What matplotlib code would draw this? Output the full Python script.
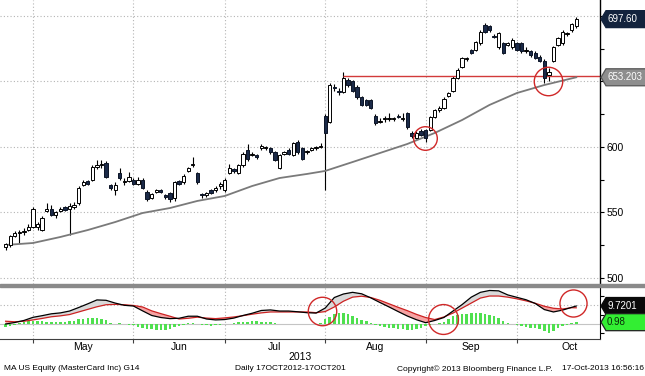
import matplotlib
matplotlib.use("Agg")
import matplotlib.pyplot as plt
import matplotlib.transforms as mtransforms
from matplotlib.patches import Polygon, Rectangle
import numpy as np

plt.rcParams['font.family'] = ['Liberation Sans', 'DejaVu Sans']

# ---------------- data ----------------
open_ = [524, 525, 532, 534, 535, 537, 539, 539, 537, 551,
         553, 548, 551, 554, 553, 554, 557, 571, 574, 575,
         585, 586, 588, 571, 567, 580, 573, 574, 575, 572,
         575, 566, 561, 566, 567, 563, 565, 561, 574, 573,
         582, 586, 580, 564, 563, 567, 567, 570, 567, 580,
         583, 580, 586, 598, 594, 594, 599, 599, 599, 596,
         584, 595, 598, 594, 604, 599, 596, 598, 599, 600,
         624, 619, 646, 643, 642, 651, 650, 646, 638, 636,
         636, 624, 619, 621, 621, 621, 624, 621, 626, 611,
         607, 612, 613, 613, 623, 628, 630, 639, 643, 653,
         661, 667, 674, 674, 679, 693, 692, 685, 676, 679,
         678, 676, 679, 679, 673, 673, 672, 669, 666, 655,
         666, 678, 679, 686, 689, 692]
high = [527, 533, 536, 537, 538, 541, 554, 543, 547, 557,
        556, 551, 554, 555, 557, 558, 570, 575, 575, 586,
        590, 590, 589, 572, 573, 584, 576, 581, 576, 577,
        576, 567, 565, 568, 568, 564, 566, 574, 575, 579,
        585, 592, 581, 565, 566, 568, 570, 573, 576, 587,
        584, 587, 596, 602, 596, 595, 602, 601, 600, 597,
        595, 597, 599, 604, 605, 600, 598, 600, 601, 603,
        625, 649, 648, 645, 657, 653, 651, 647, 639, 637,
        637, 625, 622, 624, 626, 623, 625, 626, 627, 612,
        612, 614, 614, 624, 629, 631, 638, 642, 654, 660,
        669, 669, 675, 681, 689, 695, 693, 686, 688, 680,
        680, 683, 680, 680, 676, 674, 673, 670, 667, 660,
        677, 684, 689, 688, 695, 699]
low = [521, 524, 531, 527, 533, 536, 538, 537, 536, 550,
       547, 546, 550, 551, 533, 553, 556, 570, 571, 574,
       583, 584, 576, 567, 563, 575, 571, 573, 571, 571,
       568, 559, 560, 565, 565, 560, 558, 559, 571, 572,
       581, 585, 572, 561, 562, 564, 566, 568, 566, 579,
       580, 579, 585, 589, 593, 591, 598, 598, 595, 589,
       583, 594, 594, 593, 595, 590, 595, 597, 598, 599,
       567, 618, 643, 640, 641, 646, 642, 637, 631, 631,
       629, 617, 618, 619, 620, 620, 622, 620, 614, 607,
       606, 608, 604, 612, 622, 627, 629, 638, 642, 652,
       660, 666, 671, 673, 678, 687, 688, 683, 675, 671,
       677, 675, 673, 672, 672, 669, 667, 665, 649, 650,
       665, 677, 678, 685, 688, 691]
close = [526, 532, 534, 535, 536, 539, 553, 541, 546, 553,
         548, 550, 553, 552, 555, 556, 569, 573, 572, 585,
         586, 587, 577, 569, 571, 576, 574, 577, 572, 575,
         569, 560, 564, 567, 566, 562, 560, 573, 572, 578,
         584, 587, 573, 563, 565, 565, 569, 572, 575, 584,
         582, 586, 595, 591, 595, 592, 601, 600, 596, 590,
         594, 596, 595, 603, 596, 591, 597, 599, 600, 601,
         611, 647, 645, 642, 653, 647, 643, 638, 632, 632,
         630, 618, 620, 622, 622, 622, 623, 622, 615, 608,
         611, 609, 607, 623, 628, 630, 637, 641, 653, 659,
         668, 668, 672, 680, 688, 688, 689, 684, 687, 672,
         679, 682, 674, 673, 674, 670, 668, 666, 653, 657,
         676, 683, 688, 687, 694, 697.6]

ma_idx = [0, 6, 12, 18, 24, 30, 36, 42, 48, 54, 60, 66, 70, 76, 82, 88,
          94, 100, 106, 112, 118, 125]
ma_val = [525.2, 526.7, 531.3, 536.6, 542.7, 549.6, 553.4, 558.8, 562.6,
          570.2, 576.3, 579.4, 581.7, 588.5, 595.4, 602.3, 610.7, 620.6,
          632.1, 641.2, 647.3, 653.203]

macd_idx = list(range(0, 125, 2)) + [125]
macd_val = [0.0, 0.8, 1.9, 3.6, 4.5, 5.5, 6.0, 7.0, 8.9, 10.9,
            13.0, 12.8, 11.3, 10.1, 9.7, 7.1, 4.6, 3.5, 2.9, 3.1,
            4.2, 4.2, 2.7, 2.2, 2.4, 3.2, 4.6, 5.8, 7.3, 7.6,
            7.0, 7.0, 6.6, 6.1, 5.9, 8.6, 14.3, 16.2, 17.1, 16.3,
            14.1, 11.6, 9.2, 6.7, 4.3, 2.3, 0.7, 1.9, 3.5, 7.0,
            10.5, 14.5, 17.1, 18.1, 17.9, 15.7, 14.4, 13.1, 11.1, 7.8,
            6.5, 7.5, 9.0, 9.7201]
signal_val = [1.5, 1.2, 1.5, 2.2, 3.0, 3.9, 4.4, 5.1, 6.5, 7.9,
              9.3, 10.4, 10.6, 10.4, 10.0, 9.2, 7.1, 5.6, 4.2, 2.7,
              3.1, 3.7, 3.2, 2.9, 3.3, 3.8, 4.5, 5.3, 6.0, 6.5,
              6.5, 6.5, 6.5, 6.5, 6.1, 6.7, 9.2, 12.3, 14.5, 15.0,
              14.3, 12.8, 10.9, 9.0, 7.2, 5.2, 3.5, 2.4, 3.8, 5.9,
              8.6, 11.3, 14.0, 15.1, 15.1, 14.5, 13.6, 12.5, 11.2, 9.6,
              8.5, 8.1, 8.8, 8.74]
hist_val = [-1.5, -1.0, -0.5, 0.3, 1.2, 1.4, 1.5, 1.4, 1.4, 1.3,
            1.3, 1.2, 1.1, 1.2, 1.4, 1.8, 2.6, 2.8, 3.0, 3.3,
            3.2, 2.8, 2.0, 0.6, 0.2, 0.3, -0.2, -0.4, -0.8, -1.6,
            -2.2, -2.6, -2.9, -3.2, -3.4, -3.2, -2.8, -1.8, -0.9, -0.3,
            0.3, 0.5, 0.2, -0.3, -0.7, -0.9, -0.8, -0.5, -0.2, 0.2,
            0.6, 1.0, 1.2, 1.3, 1.4, 1.4, 1.3, 1.2, 0.9, 0.5,
            0.2, 0.1, 0.1, 0.1, 0.1, 0.1, 0.0, -0.1, -0.1, 0.3,
            2.6, 3.6, 5.2, 5.9, 5.7, 5.4, 4.2, 3.4, 2.3, 1.4,
            0.4, -0.3, -1.2, -1.8, -2.2, -2.4, -2.6, -2.8, -3.0, -3.1,
            -2.8, -2.0, -1.2, -0.6, 0.0, 0.4, 1.0, 2.5, 4.3, 5.0,
            5.4, 5.6, 5.9, 5.9, 5.8, 5.6, 4.9, 4.2, 3.2, 1.8,
            0.6, 0.1, -0.6, -0.9, -1.6, -2.3, -2.3, -2.8, -3.6, -4.9,
            -3.6, -2.4, -1.2, -0.5, 0.4, 0.98]

month_starts = [6, 28, 48, 70, 92, 112]
month_ends = [28, 48, 70, 92, 112, 135]
month_labels = ['May', 'Jun', 'Jul', 'Aug', 'Sep', 'Oct']
year_label = '2013'

price_ticks = [500, 550, 600, 650, 700]
price_tick_labels = ['500', '550', '600', '', '']   # 650 / 700 hidden under the value tags
price_minor = [525, 575, 625, 675]
macd_ticks = [-5, 5, 15]
macd_grid = [10]

last_price = 697.60
ma_last = 653.203
resistance = 654.0
resistance_start = 74
macd_last = 9.7201
hist_last = 0.98

# annotation circles: (x index, value, marker size in points)
price_circles = [(91.9, 607.0, 17), (118.8, 650.0, 20.5)]
macd_circles = [(69.3, 7.0, 20.5), (95.8, 2.7, 21.5), (124.3, 11.3, 19.5)]

# ---------------- figure ----------------
W, H = 645, 376
fig = plt.figure(figsize=(W / 100, H / 100), dpi=100)
fig.patch.set_facecolor('white')


def fx(px):
    return px / W


def fy(py):
    return 1 - py / H


ax = fig.add_axes([0, fy(284), fx(600), 284 / H])
ax2 = fig.add_axes([0, fy(339), fx(600), 52 / H])

x_lo, x_hi = -1.23, 130.2
for a in (ax, ax2):
    a.set_xlim(x_lo, x_hi)
    a.set_facecolor('white')
ax.set_ylim(495.4, 712.2)
ax2.set_ylim(-8.1, 19.98)

grid_kw = dict(color='#b4b4b4', lw=0.8, ls=(0, (1, 2)), zorder=0)
for p in price_ticks:
    ax.axhline(p, **grid_kw)
for m in month_starts:
    ax.axvline(m, **grid_kw)
    ax2.axvline(m, **grid_kw)
for g in macd_grid:
    ax2.axhline(g, **grid_kw)

# candles
o = np.array(open_, float)
c = np.array(close, float)
h = np.array(high, float)
l = np.array(low, float)
idx = np.arange(len(c))
up = c >= o
ax.vlines(idx, l, h, color='black', lw=0.8, zorder=2)
bb = np.minimum(o, c)
bh = np.maximum(np.abs(c - o), 0.6)
ax.bar(idx[up], bh[up], bottom=bb[up], width=0.72, color='white',
       edgecolor='black', lw=0.7, zorder=3)
ax.bar(idx[~up], bh[~up], bottom=bb[~up], width=0.72, color='#1b2a48',
       edgecolor='#0b1426', lw=0.7, zorder=3)

# moving average and resistance
ax.plot(ma_idx, ma_val, color='#7a7a7a', lw=1.3, zorder=2.5)
ax.hlines(resistance, resistance_start, x_hi, color='#d23a3a', lw=1.0, zorder=2.4)

for (xc, yc, ms) in price_circles:
    ax.plot([xc], [yc], marker='o', ms=ms, mfc='none', mec='#d02828', mew=1.0,
            ls='none', zorder=6)

# axes styling main
for s in ('left', 'top', 'bottom'):
    ax.spines[s].set_visible(False)
ax.spines['right'].set_color('black')
ax.spines['right'].set_linewidth(1.0)
ax.yaxis.tick_right()
ax.set_yticks(price_ticks)
ax.set_yticklabels(price_tick_labels)
ax.set_yticks(price_minor, minor=True)
ax.tick_params(axis='y', which='both', direction='out', length=3, width=0.8,
               labelsize=7.5, pad=2, colors='black')
ax.tick_params(axis='x', which='both', bottom=False, labelbottom=False)

# MACD panel
mi = np.array(macd_idx, float)
mv = np.array(macd_val, float)
sv = np.array(signal_val, float)
ax2.bar(idx, hist_val, width=0.55, color='#4fe04f', zorder=2)
ax2.axhline(0, color='#c4c4c4', lw=0.8, zorder=1.5)
ax2.fill_between(mi, mv, sv, where=mv >= sv, interpolate=True, color='#d9d9d9', zorder=3, lw=0)
ax2.fill_between(mi, mv, sv, where=mv < sv, interpolate=True, color='#f6a3a3', zorder=3, lw=0)
ax2.plot(mi, sv, color='#cc2222', lw=0.9, zorder=4)
ax2.plot(mi, mv, color='black', lw=0.9, zorder=4)
for (xc, yc, ms) in macd_circles:
    ax2.plot([xc], [yc], marker='o', ms=ms, mfc='none', mec='#d02828', mew=1.0,
             ls='none', zorder=6, clip_on=False)

for s in ('left', 'top'):
    ax2.spines[s].set_visible(False)
ax2.spines['right'].set_color('black')
ax2.spines['bottom'].set_color('#404040')
ax2.yaxis.tick_right()
ax2.set_yticks(macd_ticks)
ax2.set_yticklabels([])
ax2.tick_params(axis='y', direction='out', length=3, width=0.8)
ax2.set_xticks(month_starts)
ax2.set_xticklabels([])
centers = [(a + b) / 2 for a, b in zip(month_starts, month_ends)]
ax2.set_xticks(centers, minor=True)
ax2.set_xticklabels(month_labels, minor=True)
ax2.tick_params(axis='x', which='major', direction='out', length=3, width=0.8, color='#404040')
ax2.tick_params(axis='x', which='minor', length=0, labelsize=7.5, pad=2)

# separator
fig.add_artist(Rectangle((0, fy(287)), 1, 3 / H, transform=fig.transFigure,
                         color='#8a8a8a', zorder=5))

# year label
trans = mtransforms.blended_transform_factory(ax2.transData, fig.transFigure)
fig.text((x_lo + x_hi) / 2, fy(357), year_label, transform=trans, ha='center',
         va='center', fontsize=7.5)

# value tags
ident = mtransforms.IdentityTransform()


def tag(axis, value, text, fc, tc, ec, wpx, hpx=17):
    xd, yd = axis.transData.transform((x_hi, value))
    x0 = xd + 1
    pts = [(x0, yd), (x0 + 5, yd - hpx / 2), (x0 + 5 + wpx, yd - hpx / 2),
           (x0 + 5 + wpx, yd + hpx / 2), (x0 + 5, yd + hpx / 2)]
    fig.add_artist(Polygon(pts, closed=True, transform=ident, facecolor=fc,
                           edgecolor=ec, lw=0.9, zorder=10))
    fig.text(x0 + 6, yd, text, transform=ident, ha='left', va='center',
             color=tc, fontsize=7, zorder=11)


tag(ax, last_price, f'{last_price:.2f}', '#13233d', 'white', '#13233d', 42)
tag(ax, ma_last, f'{ma_last:.3f}', '#8e8e8e', 'white', '#555555', 52)
tag(ax2, macd_last, f'{macd_last:.4f}', '#0a0a0a', 'white', '#0a0a0a', 42)
tag(ax2, hist_last, f'{hist_last:.2f}', '#33ee33', '#0a2a0a', '#202020', 42)

# footer texts
foot = dict(ha='left', va='center', fontsize=6)
fig.text(fx(4), fy(369), 'MA US Equity (MasterCard Inc) G14', **foot)
fig.text(fx(235), fy(369), 'Daily 17OCT2012-17OCT201', **foot)
fig.text(fx(397), fy(369), 'Copyright\u00a9 2013 Bloomberg Finance L.P.', **foot)
fig.text(fx(644), fy(369), '17-Oct-2013 16:56:16', ha='right', va='center', fontsize=6)

fig.savefig('out.png', dpi=100, facecolor='white')
